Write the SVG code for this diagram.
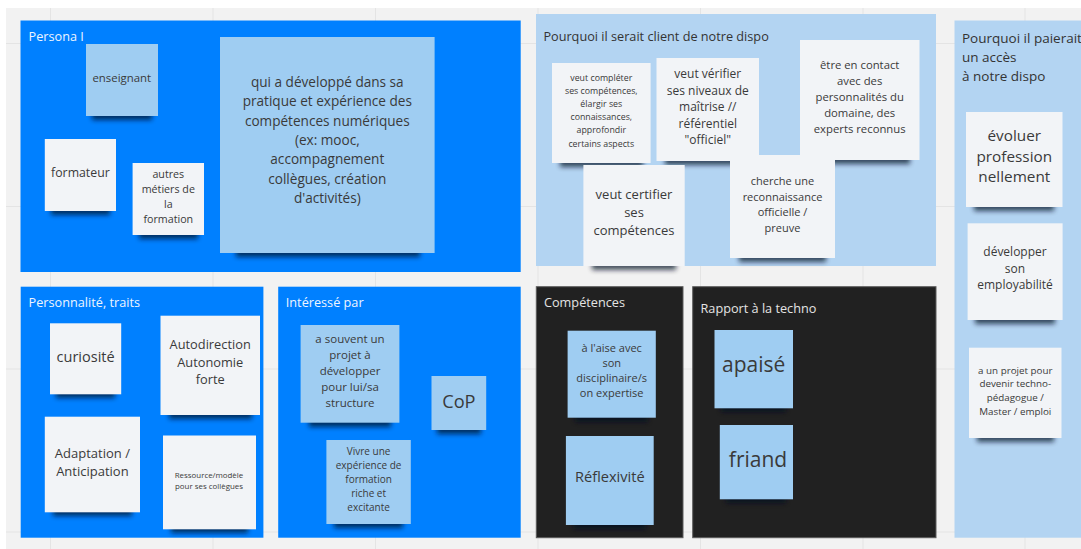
<svg xmlns="http://www.w3.org/2000/svg" width="1081" height="549" viewBox="0 0 1081 549">
<defs>
<filter id="blur" x="-20%" y="-100%" width="140%" height="300%"><feGaussianBlur stdDeviation="2.8"/></filter>
<style>
text{font-family:"Open Sans","Noto Sans","DejaVu Sans",sans-serif;}
.grid{stroke:#e4e4e4;stroke-width:1;}
.fb{fill:#0080ff;}
.fl{fill:#b3d4f2;}
.fd{fill:#212121;stroke:#5c5c5c;stroke-width:1;}
.tw{fill:#eef5ff;font-size:12.7px;}
.tk{fill:#333;font-size:12.7px;}
.td{fill:#e4e4e4;font-size:12.7px;}
.sw{fill:#f2f4f7;}
.sb{fill:#9fcdf2;}
.shd{fill:#000c24;opacity:.7;filter:url(#blur);}
.st{fill:#3a3a3a;text-anchor:middle;}
</style>
</defs>
<rect x="0" y="0" width="1081" height="549" fill="#ffffff"/>
<rect x="6" y="8" width="1075" height="541" fill="#f2f2f2"/>
<g id="grid">
<line class="grid" x1="50.5" y1="8" x2="50.5" y2="549"/>
<line class="grid" x1="213" y1="8" x2="213" y2="549"/>
<line class="grid" x1="375.5" y1="8" x2="375.5" y2="549"/>
<line class="grid" x1="538" y1="8" x2="538" y2="549"/>
<line class="grid" x1="700.5" y1="8" x2="700.5" y2="549"/>
<line class="grid" x1="863" y1="8" x2="863" y2="549"/>
<line class="grid" x1="1025" y1="8" x2="1025" y2="549"/>
<line class="grid" x1="6" y1="43.5" x2="1081" y2="43.5"/>
<line class="grid" x1="6" y1="206.5" x2="1081" y2="206.5"/>
<line class="grid" x1="6" y1="369" x2="1081" y2="369"/>
<line class="grid" x1="6" y1="532" x2="1081" y2="532"/>
</g>

<g id="frame-persona">
<rect class="fb" x="20.5" y="20.5" width="500.2" height="251.5"/>
<text class="tw" x="28.6" y="41">Persona I</text>
</g>
<g id="frame-client">
<rect class="fl" x="536" y="14" width="400" height="252"/>
<text class="tk" x="543.4" y="40.7">Pourquoi il serait client de notre dispo</text>
</g>
<g id="frame-paierait">
<rect class="fl" x="954.5" y="20.5" width="140" height="517.2"/>
<text class="tk" x="962" y="42.5" style="font-size:13.5px">Pourquoi il paierait</text>
<text class="tk" x="962" y="61.5" style="font-size:13.5px">un accès</text>
<text class="tk" x="962" y="80.5" style="font-size:13.5px">à notre dispo</text>
</g>
<g id="frame-personnalite">
<rect class="fb" x="20.7" y="286.7" width="242.7" height="251"/>
<text class="tw" x="28.6" y="307.3">Personnalité, traits</text>
</g>
<g id="frame-interesse">
<rect class="fb" x="278.2" y="286.7" width="242.5" height="251"/>
<text class="tw" x="285.8" y="307.3">Intéressé par</text>
</g>
<g id="frame-competences">
<rect class="fd" x="536.3" y="286.7" width="146.7" height="251"/>
<text class="td" x="544" y="307.3">Compétences</text>
</g>
<g id="frame-techno">
<rect class="fd" x="692.7" y="286.7" width="243.3" height="251"/>
<text class="td" x="700.5" y="313.3">Rapport à la techno</text>
</g>

<g id="connectors"></g>

<!-- Persona stickies -->
<g id="s-enseignant">
<rect class="shd" x="92" y="110" width="60" height="10"/>
<rect class="sb" x="86" y="44" width="72" height="72"/>
<text class="st" x="121.8" y="82" style="font-size:11.4px">enseignant</text>
</g>
<g id="s-formateur">
<rect class="shd" x="51" y="205" width="59" height="10"/>
<rect class="sw" x="44.8" y="139" width="71.2" height="72"/>
<text class="st" x="80.4" y="177" style="font-size:12.3px">formateur</text>
</g>
<g id="s-autres">
<rect class="shd" x="139" y="229" width="59" height="10"/>
<rect class="sw" x="132.6" y="163" width="71.4" height="72"/>
<text class="st" x="168.3" style="font-size:10.7px"><tspan x="168.3" y="178">autres</tspan><tspan x="168.3" y="193">métiers de</tspan><tspan x="168.3" y="208">la</tspan><tspan x="168.3" y="223">formation</tspan></text>
</g>
<g id="s-big">
<rect class="shd" x="236" y="245" width="184" height="12"/>
<rect class="sb" x="220" y="37" width="214.6" height="216"/>
<text class="st" style="font-size:13.6px"><tspan x="327.3" y="87">qui a développé dans sa</tspan><tspan x="327.3" y="106.3">pratique et expérience des</tspan><tspan x="327.3" y="125.6">compétences numériques</tspan><tspan x="327.3" y="144.9">(ex: mooc,</tspan><tspan x="327.3" y="164.2">accompagnement</tspan><tspan x="327.3" y="183.5">collègues, création</tspan><tspan x="327.3" y="202.8">d'activités)</tspan></text>
</g>

<!-- Client stickies -->
<g id="s-completer">
<rect class="shd" x="560" y="157" width="83" height="10"/>
<rect class="sw" x="552" y="63" width="98.6" height="100"/>
<text class="st" style="font-size:8.8px"><tspan x="601.3" y="80.5">veut compléter</tspan><tspan x="601.3" y="93.7">ses compétences,</tspan><tspan x="601.3" y="106.9">élargir ses</tspan><tspan x="601.3" y="120.1">connaissances,</tspan><tspan x="601.3" y="133.3">approfondir</tspan><tspan x="601.3" y="146.5">certains aspects</tspan></text>
</g>
<g id="s-verifier">
<rect class="shd" x="665" y="155" width="86" height="10"/>
<rect class="sw" x="656.5" y="58" width="102.5" height="103"/>
<text class="st" style="font-size:12px"><tspan x="707.8" y="78">veut vérifier</tspan><tspan x="707.8" y="94.5">ses niveaux de</tspan><tspan x="707.8" y="111">maîtrise //</tspan><tspan x="707.8" y="127.5">référentiel</tspan><tspan x="707.8" y="144">"officiel"</tspan></text>
</g>
<g id="s-contact">
<rect class="shd" x="810" y="154" width="100" height="10"/>
<rect class="sw" x="800" y="40" width="119.5" height="120"/>
<text class="st" style="font-size:11.3px"><tspan x="859.7" y="69">être en contact</tspan><tspan x="859.7" y="85">avec des</tspan><tspan x="859.7" y="101">personnalités du</tspan><tspan x="859.7" y="117">domaine, des</tspan><tspan x="859.7" y="132.5">experts reconnus</tspan></text>
</g>
<g id="s-certifier">
<rect class="shd" x="592" y="260" width="84" height="10"/>
<rect class="sw" x="583.4" y="165" width="101.3" height="101"/>
<text class="st" style="font-size:13px"><tspan x="634" y="198.5">veut certifier</tspan><tspan x="634" y="216.5">ses</tspan><tspan x="634" y="234.5">compétences</tspan></text>
</g>
<g id="s-reconnaissance">
<rect class="shd" x="739" y="252" width="87" height="10"/>
<rect class="sw" x="730" y="155" width="105" height="103"/>
<text class="st" style="font-size:11px"><tspan x="782.5" y="185">cherche une</tspan><tspan x="782.5" y="200.5">reconnaissance</tspan><tspan x="782.5" y="216">officielle /</tspan><tspan x="782.5" y="231.5">preuve</tspan></text>
</g>

<!-- Paierait stickies -->
<g id="s-evoluer">
<rect class="shd" x="974" y="201" width="80" height="10"/>
<rect class="sw" x="966" y="112" width="96.5" height="95"/>
<text class="st" style="font-size:15.3px"><tspan x="1014.3" y="140.5">évoluer</tspan><tspan x="1014.3" y="161.5">profession</tspan><tspan x="1014.3" y="182">nellement</tspan></text>
</g>
<g id="s-employabilite">
<rect class="shd" x="975" y="314" width="80" height="10"/>
<rect class="sw" x="967.6" y="223.3" width="95" height="96.7"/>
<text class="st" style="font-size:12px"><tspan x="1015" y="256">développer</tspan><tspan x="1015" y="272.5">son</tspan><tspan x="1015" y="289">employabilité</tspan></text>
</g>
<g id="s-projet-techno">
<rect class="shd" x="977" y="432" width="77" height="10"/>
<rect class="sw" x="969" y="347.7" width="92.5" height="90.3"/>
<text class="st" style="font-size:9.8px"><tspan x="1015.3" y="373.5">a un projet pour</tspan><tspan x="1015.3" y="387.3">devenir techno-</tspan><tspan x="1015.3" y="401">pédagogue /</tspan><tspan x="1015.3" y="414.8">Master / emploi</tspan></text>
</g>

<!-- Personnalité stickies -->
<g id="s-curiosite">
<rect class="shd" x="56" y="388" width="59" height="10"/>
<rect class="sw" x="50" y="323.3" width="71.2" height="71"/>
<text class="st" x="85.6" y="362" style="font-size:14.5px">curiosité</text>
</g>
<g id="s-autodirection">
<rect class="shd" x="169" y="409" width="83" height="10"/>
<rect class="sw" x="160.5" y="315.7" width="99.5" height="99.3"/>
<text class="st" style="font-size:12.8px"><tspan x="210.2" y="349">Autodirection</tspan><tspan x="210.2" y="366.5">Autonomie</tspan><tspan x="210.2" y="384">forte</tspan></text>
</g>
<g id="s-adaptation">
<rect class="shd" x="53" y="506" width="79" height="10"/>
<rect class="sw" x="44.8" y="416.7" width="95.2" height="95.6"/>
<text class="st" style="font-size:13px"><tspan x="92.4" y="458">Adaptation /</tspan><tspan x="92.4" y="475.5">Anticipation</tspan></text>
</g>
<g id="s-ressource">
<rect class="shd" x="171" y="523" width="77" height="10"/>
<rect class="sw" x="163" y="435.5" width="93" height="93.8"/>
<text class="st" style="font-size:7.9px"><tspan x="209" y="477.8">Ressource/modèle</tspan><tspan x="209" y="488.8">pour ses collègues</tspan></text>
</g>

<!-- Intéressé stickies -->
<g id="s-souvent-projet">
<rect class="shd" x="309" y="417" width="82" height="10"/>
<rect class="sb" x="300.6" y="325" width="98.8" height="97.7"/>
<text class="st" style="font-size:11.5px"><tspan x="350" y="343.3">a souvent un</tspan><tspan x="350" y="359.3">projet à</tspan><tspan x="350" y="375.3">développer</tspan><tspan x="350" y="391.3">pour lui/sa</tspan><tspan x="350" y="407.3">structure</tspan></text>
</g>
<g id="s-cop">
<rect class="shd" x="437" y="424" width="44" height="10"/>
<rect class="sb" x="431.5" y="376" width="54.7" height="54"/>
<text class="st" x="458.9" y="407.5" style="font-size:18.2px">CoP</text>
</g>
<g id="s-vivre">
<rect class="shd" x="334" y="518" width="69" height="10"/>
<rect class="sb" x="326.4" y="440" width="84.4" height="84"/>
<text class="st" style="font-size:10px"><tspan x="368.6" y="455">Vivre une</tspan><tspan x="368.6" y="469">expérience de</tspan><tspan x="368.6" y="483">formation</tspan><tspan x="368.6" y="497">riche et</tspan><tspan x="368.6" y="511">excitante</tspan></text>
</g>

<!-- Compétences stickies -->
<g id="s-aise">
<rect class="shd" x="575" y="412" width="73" height="10"/>
<rect class="sb" x="567.6" y="330.7" width="88.2" height="87"/>
<text class="st" style="font-size:11px"><tspan x="611.7" y="351.5">à l'aise avec</tspan><tspan x="611.7" y="366.8">son</tspan><tspan x="611.7" y="382.1">disciplinaire/s</tspan><tspan x="611.7" y="397.4">on expertise</tspan></text>
</g>
<g id="s-reflexivite">
<rect class="shd" x="573" y="519" width="73" height="10"/>
<rect class="sb" x="565.9" y="436" width="87.8" height="89"/>
<text class="st" x="609.8" y="481.5" style="font-size:14.6px">Réflexivité</text>
</g>

<!-- Techno stickies -->
<g id="s-apaise">
<rect class="shd" x="721" y="402" width="65" height="10"/>
<rect class="sb" x="714.5" y="330" width="78.5" height="78.3"/>
<text class="st" x="753.7" y="372" style="font-size:21px">apaisé</text>
</g>
<g id="s-friand">
<rect class="shd" x="726" y="493" width="60" height="10"/>
<rect class="sb" x="719.8" y="425" width="73.2" height="74.3"/>
<text class="st" x="758" y="466.8" style="font-size:21px">friand</text>
</g>
</svg>
